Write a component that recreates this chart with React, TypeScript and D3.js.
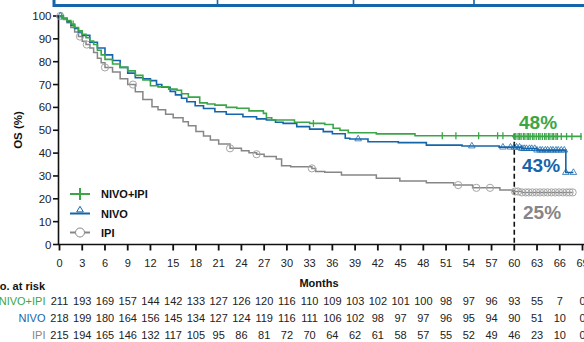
import React from "react";
import * as d3 from "d3";

// ---------- DATA ----------
const riskMonths = [0, 3, 6, 9, 12, 15, 18, 21, 24, 27, 30, 33, 36, 39, 42, 45, 48, 51, 54, 57, 60, 63, 66, 69];
const riskNivoIpi = [211, 193, 169, 157, 144, 142, 133, 127, 126, 120, 116, 110, 109, 103, 102, 101, 100, 98, 97, 96, 93, 55, 7, 0];
const riskNivo = [218, 199, 180, 164, 156, 145, 134, 127, 124, 119, 116, 111, 106, 102, 98, 97, 97, 96, 95, 94, 90, 51, 10, 0];
const riskIpi = [215, 194, 165, 146, 132, 117, 105, 95, 86, 81, 72, 70, 64, 62, 61, 58, 57, 55, 52, 49, 46, 23, 10, 0];

const yTicks = [0, 10, 20, 30, 40, 50, 60, 70, 80, 90, 100];

// KM step curves: [month, survival %]
const kmNivoIpi: [number, number][] = [
  [0, 100], [0.5, 99], [1, 98], [1.5, 96.5], [2, 95], [2.5, 93.5], [3, 92], [3.5, 90.5], [4, 89], [4.5, 87.5],
  [5, 85], [5.5, 83], [6, 81], [7, 79], [8, 77.5], [9, 76], [10, 74], [11, 72], [12, 69.5], [13, 69],
  [14.4, 68], [15.5, 67.5], [16.1, 66], [17, 64.5], [18.5, 62], [19.5, 61.5], [20.5, 61], [22, 60], [23.4, 59.6],
  [25, 58.5], [26.9, 57.4], [27.3, 55.5], [28, 54.5], [31, 53.5], [33, 53], [35, 52.5], [36.1, 50.9], [37, 50],
  [38.1, 48.9], [41.8, 48.4], [46.9, 47.6], [59.8, 47.3], [68.9, 47.3],
];
const kmNivo: [number, number][] = [
  [0, 100], [0.5, 99], [1, 97.5], [1.5, 96], [2, 94.5], [2.5, 93], [3, 91.5], [4, 88.5], [5, 86], [6, 83],
  [7, 80.5], [8, 77.5], [9, 75], [10, 73], [11, 72.5], [12, 71.7], [12.8, 70], [13.5, 68.8], [14.6, 67], [15.3, 65.5],
  [16.1, 64], [16.8, 62.5], [17.9, 60.7], [19, 59.5], [20.5, 58.1], [22, 57], [24.2, 55.9], [26, 55], [27.3, 54.5],
  [28.5, 53.5], [29.5, 53], [31.3, 51.6], [33, 50.5], [34.8, 49.4], [36, 48.5], [37.7, 46.5], [38.3, 46.2],
  [40.7, 45], [44.7, 44.6], [48.4, 43.5], [53.1, 43.1], [58, 42.6], [61, 42], [63, 41.3], [66.8, 31.5], [67.8, 31.5],
];
const kmIpi: [number, number][] = [
  [0, 100], [0.5, 98.5], [1, 97], [1.5, 95], [2, 93], [2.5, 91], [3, 89], [3.5, 87.5], [4, 86], [4.5, 84],
  [5, 81.5], [5.5, 79.5], [6, 77.5], [7, 75.5], [8, 72.5], [9, 70], [10, 66.9], [11, 63.5], [12.2, 60.3], [13, 59],
  [14, 57], [15, 55.5], [16.3, 53.7], [17, 52], [18, 49.5], [19, 47.5], [19.9, 45.7], [21, 44], [22.5, 42.1],
  [24, 41], [25, 40.2], [26, 39.5], [27, 38.5], [28.6, 37.4], [29.3, 34.5], [30.5, 34], [33.3, 33.3], [33.8, 32],
  [35, 31.6], [37.2, 30.4], [41.8, 29], [44.9, 27.8], [48.4, 27], [52, 26], [54.5, 24.8], [58.1, 23.9], [59.8, 23.2],
  [61, 22.8], [67.7, 22.8],
];

// censoring times
const censNivoIpi = [0.3, 1.8, 33.5, 50.5, 52.3, 55.3, 57.8, 58.5, 60, 60.2, 60.5, 60.7, 60.9, 61.2, 61.4, 61.7, 61.9,
  62.1, 62.4, 62.6, 62.9, 63.2, 63.4, 63.7, 64.0, 64.2, 64.5, 64.7, 65.0, 65.2, 65.5, 65.7, 66.2, 66.9, 67.6, 68.8];
const censNivo = [0.1, 39.4, 54.4, 58.5, 59.5, 60, 60.3, 60.7, 61.0, 61.3, 61.6, 62.0, 62.3, 62.7, 63.0, 63.4,
  63.7, 64.1, 64.4, 64.8, 65.1, 65.5, 65.8, 66.2, 66.6, 66.8, 67.8];
const censIpi = [0.1, 2.7, 3.6, 6, 9.7, 22.5, 26, 33.3, 52.6, 55, 56.8, 60.1, 60.5, 61, 61.5, 61.9, 62.4, 62.9,
  63.4, 63.9, 64.4, 64.9, 65.4, 65.9, 66.4, 66.9, 67.3, 67.7];

const landmarkMonth = 60;
const labels = { nivoIpi: "48%", nivo: "43%", ipi: "25%" };

// ---------- STYLE ----------
const GREEN = "#3aa647";
const BLUE = "#1565ab";
const GRAY = "#868686";
const CGRAY = "#a5a5a5";
const FONT = "'Liberation Sans', Arial, Helvetica, sans-serif";

const x = d3.scaleLinear().domain([0, 69]).range([59.5, 582.5]);
const y = d3.scaleLinear().domain([0, 100]).range([244.5, 16]);

const stepLine = d3
  .line<[number, number]>()
  .x((d) => x(d[0]))
  .y((d) => y(d[1]))
  .curve(d3.curveStepAfter);

function valueAt(km: [number, number][], t: number) {
  let v = km[0][1];
  for (const [m, s] of km) {
    if (m <= t) v = s;
    else break;
  }
  return v;
}

function tri(cx: number, cy: number) {
  return `M${cx},${cy - 3.2}L${cx + 3.3},${cy + 2.4}L${cx - 3.3},${cy + 2.4}Z`;
}

export default function App() {
  const tickLen = 6;
  return (
    <svg
      width={584}
      height={342}
      style={{ position: "absolute", left: 0, top: 0, background: "#fff" }}
      fontFamily={FONT}
    >
      <rect x={0} y={0} width={584} height={342} fill="#fff" />
      {/* top header frame */}
      <rect x={54} y={-30} width={560} height={35.5} fill="none" stroke={BLUE} strokeWidth={3} />
      {[217.5, 353.5, 474].map((xx) => (
        <line key={xx} x1={xx} x2={xx} y1={0} y2={5} stroke={BLUE} strokeWidth={1.6} />
      ))}

      {/* y axis */}
      <line x1={58.5} x2={58.5} y1={y(100) - 1} y2={y(0)} stroke="#111" strokeWidth={1.6} />
      {yTicks.map((t) => (
        <g key={t}>
          <line x1={53} x2={58.5} y1={y(t)} y2={y(t)} stroke="#111" strokeWidth={1.6} />
          <text x={51.5} y={y(t) + 4} textAnchor="end" fontSize={11.5} fill="#222">
            {t}
          </text>
        </g>
      ))}
      <text
        transform={`translate(22,130) rotate(-90)`}
        textAnchor="middle"
        fontSize={11.5}
        fontWeight="bold"
        fill="#111"
      >
        OS (%)
      </text>

      {/* x axis */}
      <line x1={58} x2={584} y1={y(0)} y2={y(0)} stroke="#111" strokeWidth={1.6} />
      {riskMonths.map((m) => (
        <g key={m}>
          <line x1={x(m)} x2={x(m)} y1={y(0)} y2={y(0) + tickLen} stroke="#111" strokeWidth={1.8} />
          <text x={x(m)} y={267} textAnchor="middle" fontSize={11} fill="#222">
            {m}
          </text>
        </g>
      ))}
      <text x={319} y={287} textAnchor="middle" fontSize={11} fontWeight="bold" fill="#111">
        Months
      </text>

      {/* landmark dashed line */}
      <line
        x1={x(landmarkMonth)}
        x2={x(landmarkMonth)}
        y1={y(48.5)}
        y2={y(0)}
        stroke="#111"
        strokeWidth={1.6}
        strokeDasharray="5,3"
      />

      {/* curves */}
      <path d={stepLine(kmIpi) || ""} fill="none" stroke={GRAY} strokeWidth={1.5} />
      {censIpi.map((t, i) => (
        <circle key={i} cx={x(t)} cy={y(valueAt(kmIpi, t))} r={3.6} fill="none" stroke={CGRAY} strokeWidth={1} />
      ))}
      <path d={stepLine(kmNivo) || ""} fill="none" stroke={BLUE} strokeWidth={1.6} />
      {censNivo.map((t, i) => (
        <path key={i} d={tri(x(t), y(valueAt(kmNivo, t)) - 0.5)} fill="none" stroke={BLUE} strokeWidth={0.9} opacity={0.85} />
      ))}
      <path d={stepLine(kmNivoIpi) || ""} fill="none" stroke={GREEN} strokeWidth={1.6} />
      {censNivoIpi.map((t, i) => {
        const cy = y(valueAt(kmNivoIpi, t));
        return <line key={i} x1={x(t)} x2={x(t)} y1={cy - 3.5} y2={cy + 3.5} stroke={GREEN} strokeWidth={1.3} />;
      })}

      {/* percentage labels */}
      <text x={519} y={128.5} fontSize={19} fontWeight="bold" fill={GREEN}>
        {labels.nivoIpi}
      </text>
      <text x={522} y={172} fontSize={19} fontWeight="bold" fill={BLUE}>
        {labels.nivo}
      </text>
      <text x={523} y={219} fontSize={19} fontWeight="bold" fill={GRAY}>
        {labels.ipi}
      </text>

      {/* legend */}
      <g>
        <line x1={70} x2={90} y1={194} y2={194} stroke={GREEN} strokeWidth={2} />
        <line x1={80} x2={80} y1={188} y2={200} stroke={GREEN} strokeWidth={2} />
        <text x={101} y={198} fontSize={11} fontWeight="bold" fill="#111">NIVO+IPI</text>

        <line x1={70} x2={90} y1={213.5} y2={213.5} stroke={BLUE} strokeWidth={2} />
        <path d={tri(80, 209.5)} fill="#fff" stroke={BLUE} strokeWidth={1} />
        <text x={101} y={217.5} fontSize={11} fontWeight="bold" fill="#111">NIVO</text>

        <line x1={70} x2={90} y1={232.5} y2={232.5} stroke={GRAY} strokeWidth={2} />
        <circle cx={80} cy={232.5} r={4.5} fill="#fff" stroke={GRAY} strokeWidth={1} />
        <text x={101} y={236.5} fontSize={11} fontWeight="bold" fill="#111">IPI</text>
      </g>

      {/* number at risk */}
      <text x={45} y={290} textAnchor="end" fontSize={11} fontWeight="bold" fill="#111">
        No. at risk
      </text>
      {[
        { name: "NIVO+IPI", color: GREEN, vals: riskNivoIpi, yy: 305 },
        { name: "NIVO", color: BLUE, vals: riskNivo, yy: 322 },
        { name: "IPI", color: GRAY, vals: riskIpi, yy: 339 },
      ].map((row) => (
        <g key={row.name}>
          <text x={45.5} y={row.yy} textAnchor="end" fontSize={11} fill={row.color}>
            {row.name}
          </text>
          {row.vals.map((v, i) => (
            <text key={i} x={x(riskMonths[i])} y={row.yy} textAnchor="middle" fontSize={11} fill="#222">
              {v}
            </text>
          ))}
        </g>
      ))}
    </svg>
  );
}
